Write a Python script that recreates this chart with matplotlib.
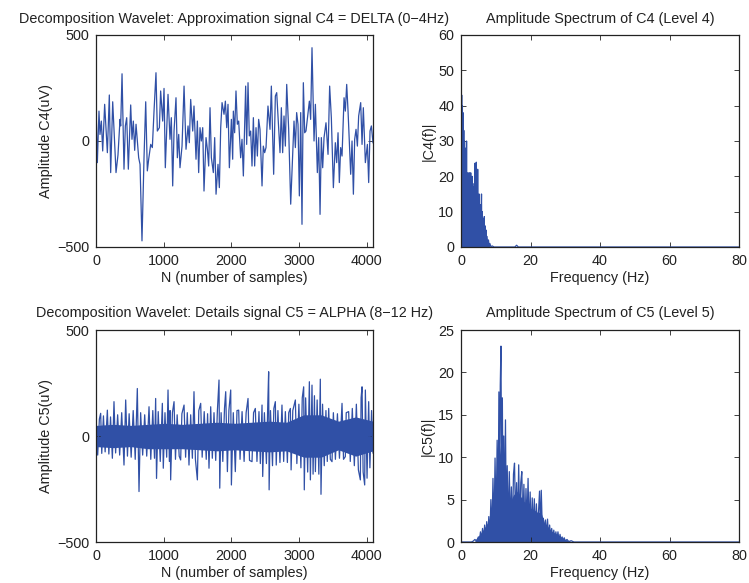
"""
Wavelet decomposition (C4 / C5) with amplitude spectra, MATLAB-style figure.
"""

import numpy as np
import matplotlib
matplotlib.use('Agg')
import matplotlib.pyplot as plt

plt.rcParams['font.family'] = ['Liberation Sans', 'DejaVu Sans']
plt.rcParams['font.size'] = 10.4
plt.rcParams['text.color'] = '#222222'
plt.rcParams['axes.labelcolor'] = '#222222'
plt.rcParams['xtick.color'] = '#222222'
plt.rcParams['ytick.color'] = '#222222'

# ---- C4 approximation signal (sample, uV) ----
c4_n = [0, 20, 44, 59, 79, 99, 128, 168, 197, 217, 247, 296, 325, 355, 365, 385, 414, 434,
        454, 478, 513, 532, 552, 572, 592, 611, 631, 651, 680, 710, 735, 759, 779, 809, 833,
        858, 887, 907, 937, 956, 986, 1006, 1025, 1065, 1094, 1114, 1134, 1154, 1183, 1203,
        1223, 1242, 1272, 1302, 1331, 1361, 1380, 1400, 1430, 1449, 1479, 1499, 1518, 1538,
        1558, 1578, 1597, 1627, 1647, 1666, 1686, 1706, 1735, 1755, 1775, 1804, 1824, 1844,
        1864, 1893, 1913, 1933, 1952, 1972, 2002, 2021,
        2031, 2050, 2070, 2090, 2110, 2139, 2159, 2179, 2198, 2213, 2228, 2248, 2267, 2287,
        2307, 2327, 2346, 2366, 2386, 2405, 2425, 2455, 2474, 2494, 2514, 2543, 2573, 2593,
        2627, 2652, 2672, 2701, 2721, 2741, 2760, 2780, 2800, 2820, 2849, 2879, 2908, 2928,
        2948, 2967, 2987, 3007, 3027, 3046, 3066, 3086, 3105, 3135, 3155, 3174, 3194, 3224,
        3244, 3273, 3293, 3313, 3332, 3352, 3372, 3401, 3431, 3455, 3480, 3510, 3539, 3559,
        3579, 3598, 3618, 3638, 3668, 3687, 3707, 3727, 3746, 3766, 3786, 3806, 3825, 3845,
        3865, 3884, 3914, 3934, 3953, 3983, 4013, 4032, 4052, 4072, 4096]
c4_v = [173, -102, 141, 31, 94, -47, 173, -55, 217, -149, 185, -149, -66, 102, 71, 317, -133, 71,
        110, -133, 170, 8, 94, -44, 79, 0, -79, -110, -471, -79, 185, -141, -86, -16, -31,
        141, 322, 47, 63, 236, 94, 248, -126, 220, 8, 110, -212, 47, 204, -79,
        31, -126, -24, 259, -39, 71, -8, 196, 47, 165, -86, 94, -149, 63,
        0, 63, -236, 16, -39, -118, 157, -79, -149, 16, -251, -110, -220, 63,
        181, 126, 188, 63, 173, -126, 102, -86,
        141, 39, 236, 79, 94, -79, 8, -165, 63, 259, -16, 275, 24, 47,
        -118, 110, -118, 63, -71, 102, 55, -212, -24, -55, -31, 165, 55, 259,
        -157, 212, 228, 55, -55, 157, -55, 118, -24, 267, 55, -298, -71, 94,
        -31, 134, 79, -259, 134, -393, 275, 39, 47, 134, 188, 102, 440, 0,
        173, -149, 16, -346, 16, -126, 16, 86, -63, 259, 110, -220, -8, -102,
        39, -196, -31, -71, 204, 141, 267, 141, 0, -157, 0, -251, 8, 55,
        -24, 118, 181, -16, 157, -102, -16, -196, 47, 71, -8]

# ---- C5 detail signal: dense core envelope and visible spikes ----
c5_env_n = [0, 256, 512, 768, 1024, 1280, 1536, 1792, 2048, 2304, 2560, 2816, 3072, 3328,
            3584, 3840, 4096]
c5_env_hi = [50, 55, 50, 55, 60, 55, 60, 65, 60, 65, 70, 65, 100, 100, 70, 90, 70]
c5_env_lo = [-50, -55, -50, -60, -60, -60, -65, -70, -65, -70, -75, -70, -100, -100, -65, -95, -70]

c5_n = [0, 25, 50, 69, 85, 110, 135, 168, 190, 215, 242, 266, 290, 320, 350, 380, 414, 439,
        465, 490, 520, 550, 580, 611, 636, 660, 690, 720, 750, 784, 810, 840, 865, 882, 895,
        920, 950, 981, 995, 1020, 1045, 1065, 1085, 1095, 1104, 1130, 1154, 1175, 1200, 1230,
        1252, 1270, 1302, 1325, 1350, 1375, 1400, 1425, 1449, 1470, 1499, 1520, 1548, 1570,
        1600, 1630, 1650, 1671, 1696, 1720, 1745, 1770, 1795, 1819, 1830, 1850, 1875, 1900,
        1918, 1943, 1965, 1992, 2002, 2030, 2060, 2085, 2110, 2130, 2160, 2190, 2220, 2248,
        2270, 2307, 2330, 2356, 2380, 2410, 2430, 2455, 2465, 2490, 2520, 2540, 2553, 2560,
        2580, 2610, 2630, 2652, 2665, 2690, 2720, 2750, 2775, 2800, 2830, 2850, 2874, 2885,
        2910, 2948, 2970, 3000, 3030, 3050, 3071, 3080, 3100, 3130, 3155, 3170, 3194, 3210,
        3230, 3244, 3270, 3295, 3317, 3327, 3350, 3375, 3400, 3420, 3441, 3465, 3490, 3510,
        3540, 3570, 3600, 3638, 3660, 3687, 3700, 3736, 3760, 3790, 3820, 3850, 3880, 3909,
        3920, 3934, 3950, 3973, 3983, 4008, 4032, 4050, 4075, 4096]
c5_v = [60, -90, 80, 107, -82, 95, -75, 122, -85, 90, -105, 162, -80, 100, -90, 110, -137, 170,
        -95, 105, -100, 120, -110, 224, -262, 110, -90, 100, -95, 138, -110, 120, -105, 177, -200,
        115, -120, 154, -152, 110, -100, 217, -120, 120, -207, 110, 162, -110, 100, -95,
        -113, 105, 146, -100, 110, -137, 100, -105, 209, -110, -207, 120, 154, -100,
        115, -110, 105, -152, 138, -105, 110, -115, 120, 264, -246, 110, -120, 130,
        209, -168, 120, 217, -231, 110, -168, 120, 122, -110, 115, -120, 110, 177,
        -115, -121, 110, 130, -120, 115, -130, 146, -191, 110, -130, 150, 303, -254,
        120, -140, 130, 162, -137, 120, -125, 146, -120, 115, -125, 110, 130, -160,
        120, 170, -130, 150, -150, 180, 232, -254, 180, -170, 256, -207, 240, -180,
        190, -168, 170, -180, 268, -275, 150, -140, 120, -120, 130, -110, -121, 110,
        -110, 105, -105, 154, -110, -97, 110, 115, -120, 130, -140, 150, -160, -207,
        180, 232, -170, -231, 217, -199, 162, -150, 120, -80]

# ---- amplitude spectra (Hz, |C(f)|) ----
c4_f = [0.0, 0.0, 0.1, 0.2, 0.3, 0.4, 0.5, 0.6, 0.7, 0.8, 0.9, 1.0, 1.1, 1.2, 1.3, 1.4, 1.5,
        1.6, 1.7, 1.8, 1.9, 2.0, 2.1, 2.2, 2.3, 2.4, 2.5, 2.6, 2.7, 2.8, 2.9, 3.0, 3.1, 3.2,
        3.3, 3.4, 3.5, 3.6, 3.7, 3.8, 3.9, 4.0, 4.1, 4.2, 4.3, 4.4, 4.5, 4.6, 4.7, 4.8, 4.9,
        5.0, 5.1, 5.2, 5.3, 5.4, 5.5, 5.6, 5.7, 5.8, 5.9, 6.0, 6.1, 6.2, 6.3, 6.4, 6.5, 6.6,
        6.7, 6.8, 6.9, 7.0, 7.1, 7.2, 7.3, 7.5, 7.7, 7.9, 8.1, 8.3, 8.6, 9.0, 9.5, 15.5, 16.0,
        16.5, 80.0]
c4_a = [0, 55, 8, 43, 5, 40, 10, 38, 6, 33, 4, 30, 12, 28, 3, 25, 8,
        30, 5, 20, 2, 21, 6, 19, 3, 21, 2, 18, 8, 21, 1, 19, 4, 20,
        2, 17, 6, 14, 1, 18, 3, 23.7, 5, 20, 2, 24, 4, 14, 1, 22, 3,
        12, 1.5, 15, 2, 11, 5, 12, 1, 9, 15, 2, 10, 0.5, 8, 1, 6, 0.5,
        8.6, 0.3, 6, 5, 0.8, 4.8, 0.3, 3, 0.3, 2, 0.2, 1.0, 0.1, 0.3, 0, 0, 0.5,
        0, 0]
# solid lower part of the C4 spectrum
c4_mass_f = [0.0, 0.5, 1.0, 1.5, 2.0, 3.0, 4.0, 5.0, 6.0, 7.0, 8.0, 8.6]
c4_mass_a = [40, 22, 20, 15, 13, 12, 14, 10, 6, 2.5, 0.6, 0]

c5_f = [0.0, 3.0, 3.5, 4.0, 4.5, 5.0, 5.3, 5.6, 5.9, 6.2, 6.5, 6.8, 7.1, 7.4, 7.7, 8.0, 8.3,
        8.6, 8.9, 9.2, 9.5, 9.8, 10.1, 10.4, 10.7, 10.9, 11.1, 11.3, 11.5, 11.7, 11.9, 12.1,
        12.3, 12.5, 12.8, 13.0, 13.3, 13.6, 13.9, 14.2, 14.5, 14.8, 15.1, 15.4, 15.7, 16.0,
        16.3, 16.6, 16.9, 17.2, 17.5, 17.8, 18.1, 18.4, 18.7, 19.0, 19.3, 19.6, 19.9, 20.2,
        20.5, 20.8, 21.1, 21.4, 21.7, 22.0, 22.3, 22.6, 22.9, 23.1, 23.4, 23.7, 24.0, 24.3,
        24.6, 24.9, 25.2, 25.5, 25.8, 26.1, 26.4, 26.7, 27.0, 27.3, 27.6, 27.9, 28.2, 28.5,
        28.8, 29.1, 29.4, 29.7, 30.0, 30.5, 31.0, 31.7, 32.5, 80.0]
c5_a = [0, 0, 0.1, 0.3, 0.1, 0.6, 0.1, 1.2, 0.2, 1.6, 0.3, 2.0, 0.4, 2.4, 0.5, 3.0, 0.6,
        5.0, 1.0, 7.5, 1.5, 9.9, 2.5, 12.0, 3.5, 17.7, 5.0, 18.5, 23.1, 6.0, 17.0, 4.0,
        12.5, 2.0, 14.4, 3.0, 9.0, 1.5, 8.3, 2.0, 6.5, 1.0, 8.0, 9.3, 2.5, 7.0,
        1.5, 9.1, 2.0, 7.0, 8.3, 1.5, 6.8, 1.0, 6.3, 2.0, 7.5, 1.2, 5.9, 0.8,
        5.2, 1.5, 5.1, 0.6, 4.5, 1.0, 3.5, 6.0, 0.8, 6.1, 1.5, 2.8, 0.5, 2.6,
        0.8, 2.7, 0.4, 2.0, 0.6, 1.6, 0.3, 1.4, 0.2, 1.2, 0.3, 1.2, 0.2, 0.9,
        0.1, 0.6, 0.1, 0.5, 0.1, 0.3, 0.05, 0.15, 0.0, 0.0]
# solid lower part of the C5 spectrum
c5_mass_f = [4.0, 6.0, 8.0, 9.0, 10.0, 11.0, 11.5, 12.0, 13.0, 14.0, 15.0, 16.0, 17.0, 18.0,
             19.0, 20.0, 21.0, 22.0, 23.0, 24.0, 25.0, 26.0, 28.0, 30.0, 32.0]
c5_mass_a = [0.2, 1.2, 2.5, 4.0, 6.5, 10.0, 12.0, 9.5, 6.0, 4.5, 5.5, 6.0, 5.5, 4.8,
             4.5, 4.0, 3.8, 3.5, 3.5, 2.3, 1.8, 1.3, 0.8, 0.3, 0.0]

LINE = '#3050a6'


def style_axes(ax):
    ax.tick_params(direction='in', length=3.5, width=0.6, top=True, right=True, pad=5)
    for s in ax.spines.values():
        s.set_linewidth(0.9)
        s.set_color('#222222')


fig = plt.figure(figsize=(7.49, 5.83), dpi=100)
W, H = 749, 583
ax1 = fig.add_axes([96 / W, 1 - 247 / H, 277 / W, 212 / H])
ax2 = fig.add_axes([461 / W, 1 - 247 / H, 278 / W, 212 / H])
ax3 = fig.add_axes([96 / W, 1 - 542 / H, 277 / W, 212 / H])
ax4 = fig.add_axes([461 / W, 1 - 542 / H, 278 / W, 212 / H])

TITLE_FS = 10.4
TITLE_PAD = 9

# C4 time signal
ax1.plot(c4_n, c4_v, color=LINE, lw=0.9)
ax1.set_xlim(0, 4096)
ax1.set_ylim(-500, 500)
ax1.set_xticks([0, 1000, 2000, 3000, 4000])
ax1.set_yticks([-500, 0, 500])
ax1.set_yticklabels(['\u2212500', '0', '500'])
ax1.set_title('Decomposition Wavelet: Approximation signal C4 = DELTA (0\u22124Hz)',
              fontsize=TITLE_FS, pad=TITLE_PAD)
ax1.set_xlabel('N (number of samples)', labelpad=2)
ax1.set_ylabel('Amplitude C4(uV)', labelpad=3)

# C4 spectrum
ax2.fill_between(c4_mass_f, 0, c4_mass_a, color=LINE, lw=0)
ax2.plot(c4_f, c4_a, color=LINE, lw=0.9)
ax2.set_xlim(0, 80)
ax2.set_ylim(0, 60)
ax2.set_xticks([0, 20, 40, 60, 80])
ax2.set_yticks([0, 10, 20, 30, 40, 50, 60])
ax2.set_title('Amplitude Spectrum of C4 (Level 4)', fontsize=TITLE_FS, pad=TITLE_PAD)
ax2.set_xlabel('Frequency (Hz)', labelpad=2)
ax2.set_ylabel('|C4(f)|', labelpad=2)

# C5 time signal
ax3.fill_between(c5_env_n, c5_env_lo, c5_env_hi, color=LINE, lw=0)
ax3.plot(c5_n, c5_v, color=LINE, lw=0.9)
ax3.set_xlim(0, 4096)
ax3.set_ylim(-500, 500)
ax3.set_xticks([0, 1000, 2000, 3000, 4000])
ax3.set_yticks([-500, 0, 500])
ax3.set_yticklabels(['\u2212500', '0', '500'])
ax3.set_title('Decomposition Wavelet: Details signal C5 = ALPHA (8\u221212 Hz)',
              fontsize=TITLE_FS, pad=TITLE_PAD)
ax3.set_xlabel('N (number of samples)', labelpad=2)
ax3.set_ylabel('Amplitude C5(uV)', labelpad=3)

# C5 spectrum
ax4.fill_between(c5_mass_f, 0, c5_mass_a, color=LINE, lw=0)
ax4.plot(c5_f, c5_a, color=LINE, lw=0.9)
ax4.set_xlim(0, 80)
ax4.set_ylim(0, 25)
ax4.set_xticks([0, 20, 40, 60, 80])
ax4.set_yticks([0, 5, 10, 15, 20, 25])
ax4.set_title('Amplitude Spectrum of C5 (Level 5)', fontsize=TITLE_FS, pad=TITLE_PAD)
ax4.set_xlabel('Frequency (Hz)', labelpad=2)
ax4.set_ylabel('|C5(f)|', labelpad=2)

for ax in (ax1, ax2, ax3, ax4):
    style_axes(ax)

fig.savefig('out.png', dpi=100)
